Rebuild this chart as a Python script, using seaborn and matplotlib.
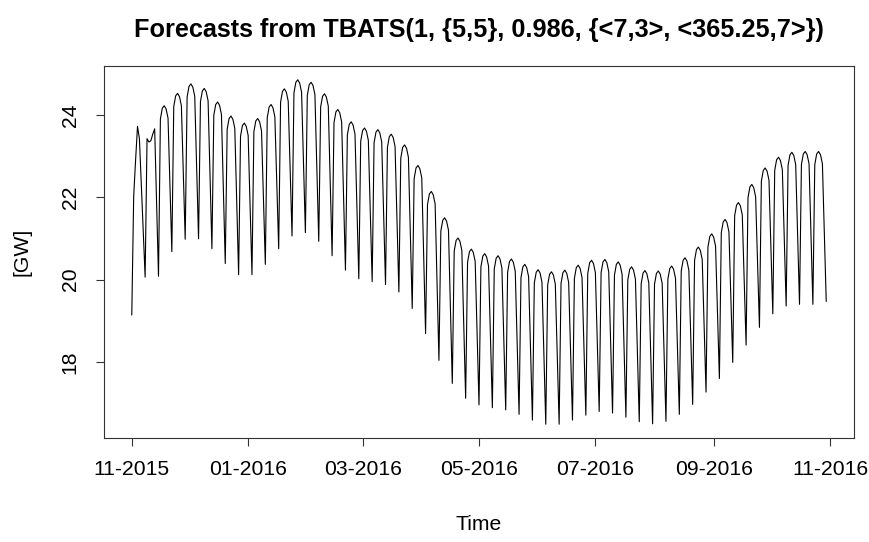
import numpy as np
import pandas as pd
import matplotlib
matplotlib.use("Agg")
import matplotlib.pyplot as plt
import seaborn as sns

# Daily point forecasts [GW], one list per weekday (week starts on Sunday).
sun = [19.14, 20.06, 20.08, 20.68, 20.98, 20.99, 20.75, 20.39, 20.12, 20.12,
       20.37, 20.75, 21.06, 21.14, 20.93, 20.58, 20.23, 20.02, 19.95, 19.88,
       19.70, 19.30, 18.69, 18.04, 17.48, 17.12, 16.96, 16.89, 16.84, 16.73,
       16.59, 16.49, 16.49, 16.59, 16.71, 16.80, 16.76, 16.66, 16.55, 16.50,
       16.56, 16.73, 16.97, 17.27, 17.60, 17.99, 18.41, 18.84, 19.17, 19.36,
       19.40, 19.40, 19.47]
mon = [22.02, 23.42, 23.90, 24.20, 24.43, 24.32, 23.99, 23.65, 23.48, 23.59,
       23.93, 24.31, 24.53, 24.47, 24.19, 23.81, 23.51, 23.36, 23.32, 23.21,
       22.95, 22.45, 21.82, 21.18, 20.69, 20.42, 20.31, 20.26, 20.18, 20.05,
       19.92, 19.87, 19.91, 20.03, 20.15, 20.17, 20.11, 19.99, 19.90, 19.89,
       20.01, 20.21, 20.47, 20.79, 21.14, 21.55, 21.99, 22.39, 22.65, 22.77,
       22.79, 22.79]
tue = [22.90, 23.34, 24.16, 24.46, 24.69, 24.58, 24.25, 23.91, 23.74, 23.85,
       24.19, 24.57, 24.79, 24.73, 24.45, 24.07, 23.77, 23.62, 23.58, 23.47,
       23.21, 22.71, 22.08, 21.44, 20.95, 20.68, 20.57, 20.52, 20.44, 20.31,
       20.18, 20.13, 20.17, 20.29, 20.41, 20.43, 20.37, 20.25, 20.16, 20.15,
       20.27, 20.47, 20.73, 21.05, 21.40, 21.81, 22.25, 22.65, 22.91, 23.03,
       23.05, 23.05]
wed = [23.72, 23.37, 24.22, 24.52, 24.75, 24.64, 24.31, 23.97, 23.80, 23.91,
       24.25, 24.63, 24.85, 24.79, 24.51, 24.13, 23.83, 23.68, 23.64, 23.53,
       23.27, 22.77, 22.14, 21.50, 21.01, 20.74, 20.63, 20.58, 20.50, 20.37,
       20.24, 20.19, 20.23, 20.35, 20.47, 20.49, 20.43, 20.31, 20.22, 20.21,
       20.33, 20.53, 20.79, 21.11, 21.46, 21.87, 22.31, 22.71, 22.97, 23.09,
       23.11, 23.11]
thu = [23.42, 23.53, 24.14, 24.44, 24.67, 24.56, 24.23, 23.89, 23.72, 23.83,
       24.17, 24.55, 24.77, 24.71, 24.43, 24.05, 23.75, 23.60, 23.56, 23.45,
       23.19, 22.69, 22.06, 21.42, 20.93, 20.66, 20.55, 20.50, 20.42, 20.29,
       20.16, 20.11, 20.15, 20.27, 20.39, 20.41, 20.35, 20.23, 20.14, 20.13,
       20.25, 20.45, 20.71, 21.03, 21.38, 21.79, 22.23, 22.63, 22.89, 23.01,
       23.03, 23.03]
fri = [22.30, 23.66, 23.92, 24.22, 24.45, 24.34, 24.01, 23.67, 23.50, 23.61,
       23.95, 24.33, 24.55, 24.49, 24.21, 23.83, 23.53, 23.38, 23.34, 23.23,
       22.97, 22.47, 21.84, 21.20, 20.71, 20.44, 20.33, 20.28, 20.20, 20.07,
       19.94, 19.89, 19.93, 20.05, 20.17, 20.19, 20.13, 20.01, 19.92, 19.91,
       20.03, 20.23, 20.49, 20.81, 21.16, 21.57, 22.01, 22.41, 22.67, 22.79,
       22.81, 22.81]
sat = [21.18, 21.87, 22.30, 22.60, 22.72, 22.55, 22.20, 21.90, 21.81, 21.99,
       22.35, 22.70, 22.85, 22.71, 22.40, 22.03, 21.78, 21.67, 21.61, 21.47,
       21.14, 20.58, 19.94, 19.34, 18.92, 18.70, 18.61, 18.56, 18.47, 18.33,
       18.22, 18.19, 18.26, 18.38, 18.49, 18.48, 18.40, 18.28, 18.21, 18.24,
       18.38, 18.60, 18.88, 19.21, 19.58, 19.99, 20.43, 20.79, 21.02, 21.10,
       21.11, 21.14]

first_day = "2015-11-01"
tick_dates = ["2015-11-01", "2016-01-01", "2016-03-01", "2016-05-01",
              "2016-07-01", "2016-09-01", "2016-11-01"]
tick_labels = ["11-2015", "01-2016", "03-2016", "05-2016",
               "07-2016", "09-2016", "11-2016"]
y_ticks = [18, 20, 22, 24]

# Lay the weekday lists out as one daily series
values = []
for w in range(len(mon)):
    values += [sun[w], mon[w], tue[w], wed[w], thu[w], fri[w], sat[w]]
values.append(sun[-1])
dates = pd.date_range(first_day, periods=len(values), freq="D")
df = pd.DataFrame({"Time": dates, "GW": values})

sns.set_theme(style="white")
plt.rcParams["font.family"] = ["Liberation Sans", "DejaVu Sans"]
plt.rcParams["text.color"] = "black"

W, H = 869, 542
fig = plt.figure(figsize=(W / 100, H / 100), dpi=100)
ax = fig.add_axes([104 / W, 1 - 438 / H, (854 - 104) / W, (438 - 66) / H])

sns.lineplot(data=df, x="Time", y="GW", color="black", linewidth=0.8, ax=ax)

# R-style 4% padding around the data range
span_days = (dates[-1] - dates[0]).days
pad = pd.Timedelta(days=span_days * 0.04)
ax.set_xlim(dates[0] - pad, dates[-1] + pad)
lo, hi = min(values), max(values)
ax.set_ylim(lo - 0.04 * (hi - lo), hi + 0.04 * (hi - lo))

ax.set_xticks(pd.to_datetime(tick_dates))
ax.set_xticklabels(tick_labels)
ax.set_yticks(y_ticks)
ax.set_yticklabels([str(t) for t in y_ticks], rotation=90, va="center")
ax.tick_params(axis="both", direction="out", length=5.5, width=0.8,
               color="#333333", labelsize=15.2, colors="black",
               bottom=True, left=True)
ax.tick_params(axis="x", pad=10)
ax.tick_params(axis="y", pad=12)
for s in ax.spines.values():
    s.set_visible(True)
    s.set_color("#333333")
    s.set_linewidth(0.8)
ax.set_xlabel("")
ax.set_ylabel("")
ax.grid(False)

fig.text(0.5 * (104 + 854) / W, 1 - 30 / H,
         "Forecasts from TBATS(1, {5,5}, 0.986, {<7,3>, <365.25,7>})",
         ha="center", va="center", fontsize=18.2, fontweight="bold",
         color="black")
fig.text(0.5 * (104 + 854) / W, 1 - 525 / H, "Time",
         ha="center", va="center", fontsize=15.2, color="black")
fig.text(22 / W, 1 - 252 / H, "[GW]", ha="center", va="center",
         rotation=90, fontsize=15.2, color="black")

fig.savefig("out.png", dpi=100, facecolor="white")
